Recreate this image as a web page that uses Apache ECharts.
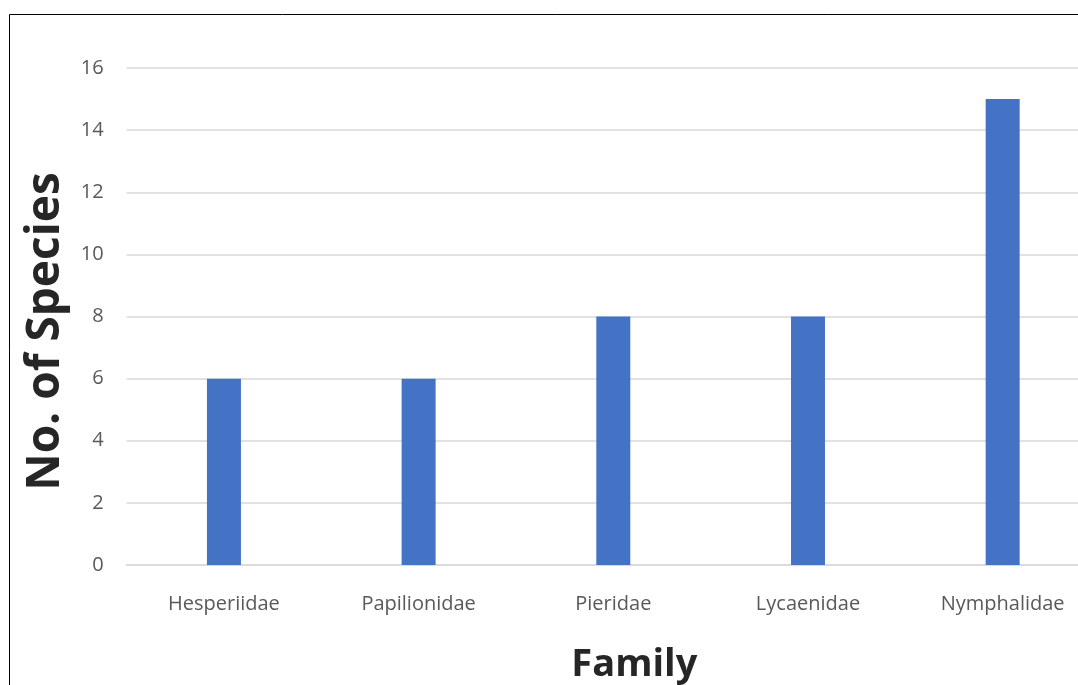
<!DOCTYPE html>
<html>
<head>
<meta charset="utf-8">
<script src="https://cdn.jsdelivr.net/npm/echarts@6/dist/echarts.min.js"></script>
<style>html,body{margin:0;padding:0;background:#fff;overflow:hidden;width:1078px;height:685px;}#c{width:1100px;height:685px;}</style>
</head>
<body>
<div id="c"></div>
<script>
var categories = ["Hesperiidae", "Papilionidae", "Pieridae", "Lycaenidae", "Nymphalidae"];
var speciesCounts = [6, 6, 8, 8, 15];
var yTicks = [0, 2, 4, 6, 8, 10, 12, 14, 16];

var chart = echarts.init(document.getElementById('c'));
chart.setOption({
  animation: false,
  backgroundColor: '#fff',
  graphic: [{
    type: 'rect',
    shape: { x: 9.5, y: 14.5, width: 1200, height: 800 },
    style: { fill: 'none', stroke: '#000', lineWidth: 1 },
    silent: true,
    z: 100
  }],
  grid: { left: 126.6, right: 0, top: 68, bottom: 120, containLabel: false, outerBoundsMode: 'none' },
  xAxis: {
    type: 'category',
    data: categories,
    name: 'Family',
    nameLocation: 'middle',
    nameGap: 81,
    nameTextStyle: { fontFamily: 'Open Sans', fontWeight: 'bold', fontSize: 38, color: '#262626', padding: [0, 0, 0, 42] },
    axisLine: { lineStyle: { color: '#d9d9d9', width: 1.5 } },
    axisTick: { show: false },
    axisLabel: { fontFamily: 'Open Sans', fontSize: 20, color: '#595959', margin: 29 }
  },
  yAxis: {
    type: 'value',
    min: yTicks[0],
    max: yTicks[yTicks.length - 1],
    interval: 2,
    name: 'No. of Species',
    nameLocation: 'middle',
    nameRotate: 90,
    nameGap: 58,
    nameTextStyle: { fontFamily: 'Open Sans', fontWeight: 'bold', fontSize: 46, color: '#262626', padding: [0, 30, 0, 0] },
    axisLine: { show: false },
    axisTick: { show: false },
    axisLabel: { fontFamily: 'Open Sans', fontSize: 20, color: '#595959', margin: 23 },
    splitLine: { lineStyle: { color: '#d9d9d9', width: 1.5 } }
  },
  series: [{
    type: 'bar',
    data: speciesCounts,
    barWidth: 34,
    itemStyle: { color: '#4472C4' }
  }]
});
</script>
</body>
</html>
